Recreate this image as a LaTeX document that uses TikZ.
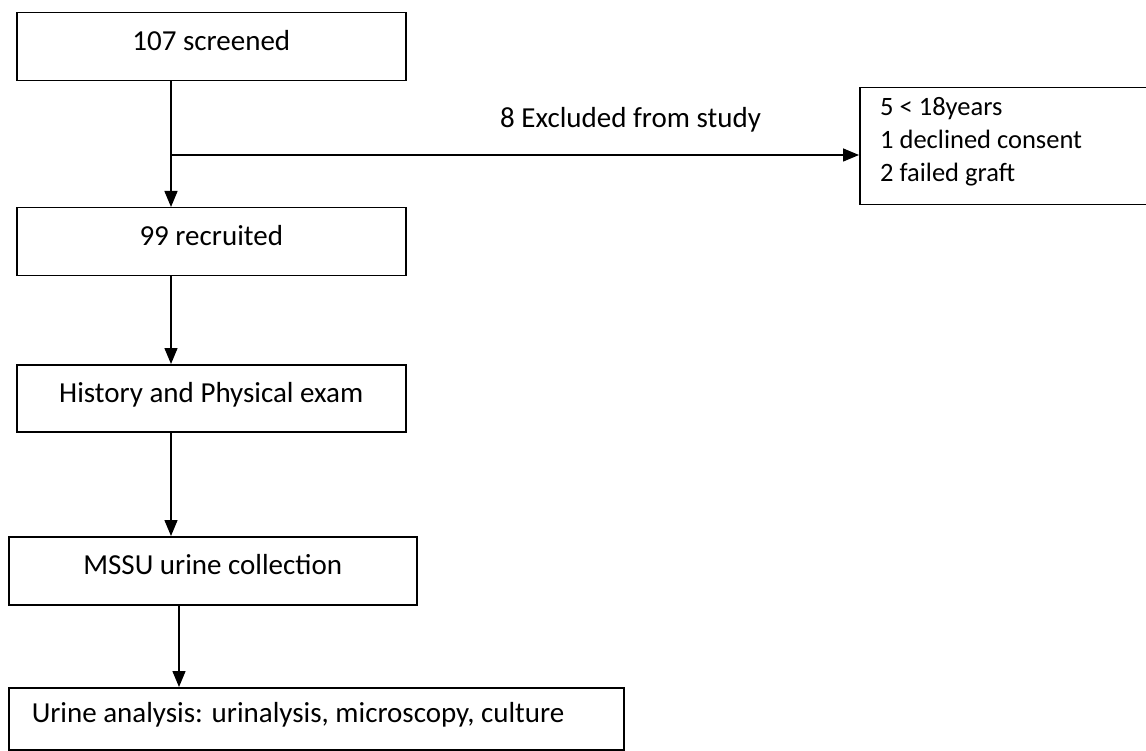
\documentclass[tikz,border=0pt]{standalone}
\usepackage{fontspec}
\setmainfont{Carlito}
\usetikzlibrary{arrows.meta}
\begin{document}
\begin{tikzpicture}[x=1pt,y=-1pt,
  box/.style={draw=black, line width=1.5pt, rectangle, inner sep=0pt, anchor=north west,
    font=\fontsize{29}{35}\selectfont, text height=16pt, text depth=8pt},
  arr/.style={draw=black, line width=1.5pt, -{Triangle[length=16pt,width=13pt]}},
  small/.style={font=\fontsize{26.5}{33}\selectfont},
  big/.style={font=\fontsize{29}{35}\selectfont}]
\fill[white] (0,0) rectangle (1146,751);
\useasboundingbox (0,0) rectangle (1146,751);

\node[box, minimum width=389pt, minimum height=68pt] (b1) at (16,12) {107 screened};
\node[box, minimum width=389pt, minimum height=68pt] (b2) at (16,207) {99 recruited};
\node[box, minimum width=389pt, minimum height=67pt] (b3) at (16,364) {History and Physical exam};
\node[box, minimum width=408pt, minimum height=68pt] (b4) at (8,536) {MSSU urine collection};
\node[box, minimum width=615pt, minimum height=62pt, inner xsep=23pt] (b5) at (8,687)
  {\makebox[569pt][l]{Urine analysis: urinalysis, microscopy, culture}};

\node[draw=black, line width=1.5pt, rectangle, inner sep=0pt, anchor=north west,
  minimum width=300pt, minimum height=117pt] (ex) at (859,87) {};
\node[small, anchor=base west, align=left, inner sep=0pt] (exl) at (880,182)
  {5 < 18years\\1 declined consent\\2 failed graft};

\coordinate (ax) at (171,0);
\coordinate (ax2) at (179,0);
\coordinate (br) at (171,155);
\draw[arr] (b1.south -| ax) -- (b2.north -| ax);
\draw[arr] (br) -- (br -| ex.west);
\node[big, anchor=base west, inner sep=0pt] (lab) at (500,128) {8 Excluded from study};
\draw[arr] (b2.south -| ax) -- (b3.north -| ax);
\draw[arr] (b3.south -| ax) -- (b4.north -| ax);
\draw[arr] (b4.south -| ax2) -- (b5.north -| ax2);
\end{tikzpicture}
\end{document}
